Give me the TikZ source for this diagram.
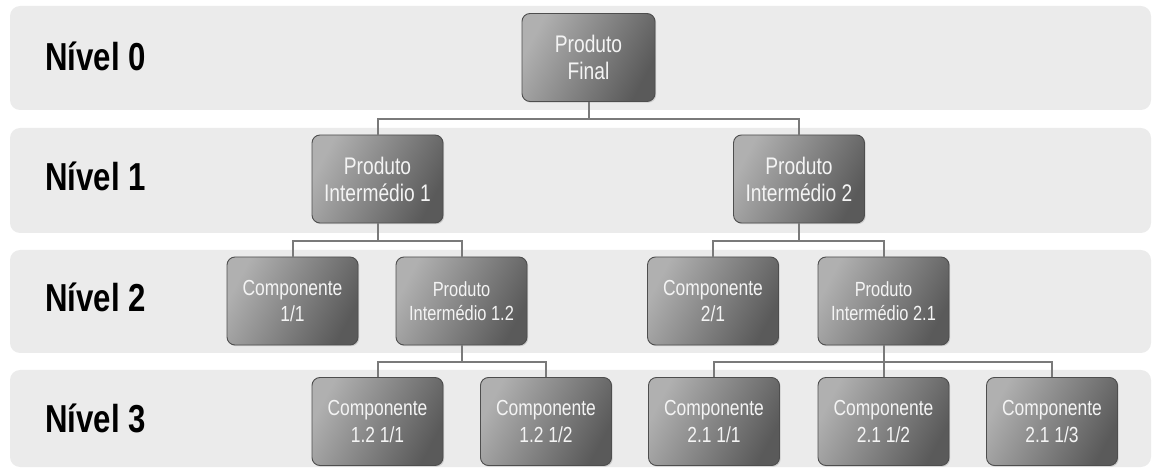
\documentclass[tikz,border=0pt]{standalone}
\usepackage{fontspec}
\setmainfont{Liberation Sans}[FakeStretch=0.8]
\usetikzlibrary{shadows}

\definecolor{bandgray}{HTML}{EBEBEB}
\definecolor{boxlight}{HTML}{B0B0B0}
\definecolor{boxdark}{HTML}{5A5A5A}
\definecolor{boxedge}{HTML}{4E4E4E}
\definecolor{linkgray}{HTML}{7A7A7A}
\definecolor{boxtext}{HTML}{F4F4F4}

\tikzset{
  band/.style={fill=bandgray, rounded corners=10pt},
  levellabel/.style={anchor=base west, inner sep=0pt,
    font=\fontsize{39}{41}\selectfont\bfseries},
  itembox/.style={draw=boxedge, line width=0.9pt, rounded corners=8pt,
    top color=boxlight, bottom color=boxdark, shading angle=62,
    minimum width=131pt, minimum height=88pt, align=center,
    text=boxtext, inner sep=2pt,
    drop shadow={opacity=0.3, shadow xshift=1.2pt, shadow yshift=-1.2pt}},
  bigtext/.style={font=\fontsize{24}{27}\selectfont},
  comptext/.style={font=\fontsize{21.8}{26.5}\selectfont},
  smalltext/.style={font=\fontsize{20.5}{24}\selectfont},
  link/.style={draw=linkgray, line width=2pt},
}

\begin{document}
\begin{tikzpicture}[x=1pt, y=-1pt]
  \useasboundingbox (0,0) rectangle (1152,470);

  % level bands
  \fill[band] (10,6)   rectangle (1151,110);
  \fill[band] (10,128) rectangle (1151,233);
  \fill[band] (10,250) rectangle (1151,353);
  \fill[band] (10,370) rectangle (1151,467);

  % level labels
  \node[levellabel] (lv0) at (45,71)  {Nível 0};
  \node[levellabel] (lv1) at (45,191) {Nível 1};
  \node[levellabel] (lv2) at (45,312) {Nível 2};
  \node[levellabel] (lv3) at (45,432) {Nível 3};

  % level 0
  \node[itembox, bigtext, minimum width=133pt] (pf) at (588.5,57.5) {Produto\\Final};

  % level 1
  \node[itembox, bigtext] (pi1) at (377.5,179) {Produto\\Intermédio 1};
  \node[itembox, bigtext] (pi2) at (799,179)   {Produto\\Intermédio 2};

  % level 2
  \node[itembox, comptext]  (c11)  at (292.5,301) {Componente\\1/1};
  \node[itembox, smalltext] (pi12) at (461.5,301) {Produto\\Intermédio 1.2};
  \node[itembox, comptext]  (c21)  at (713,301)   {Componente\\2/1};
  \node[itembox, smalltext] (pi21) at (883.5,301) {Produto\\Intermédio 2.1};

  % level 3
  \node[itembox, comptext] (c1211) at (377.5,421.5) {Componente\\1.2 1/1};
  \node[itembox, comptext] (c1212) at (546,421.5)   {Componente\\1.2 1/2};
  \node[itembox, comptext] (c2111) at (714,421.5)   {Componente\\2.1 1/1};
  \node[itembox, comptext] (c2112) at (883.5,421.5) {Componente\\2.1 1/2};
  \node[itembox, comptext] (c2113) at (1052,421.5)  {Componente\\2.1 1/3};

  % connectors: parent down to a bus, then across and down to each child
  \draw[link] (pf.south) -- ++(0,17.5) -| (pi1.north);
  \draw[link] (pf.south) -- ++(0,17.5) -| (pi2.north);

  \draw[link] (pi1.south) -- ++(0,18) -| (c11.north);
  \draw[link] (pi1.south) -- ++(0,18) -| (pi12.north);
  \draw[link] (pi2.south) -- ++(0,18) -| (c21.north);
  \draw[link] (pi2.south) -- ++(0,18) -| (pi21.north);

  \draw[link] (pi12.south) -- ++(0,17) -| (c1211.north);
  \draw[link] (pi12.south) -- ++(0,17) -| (c1212.north);
  \draw[link] (pi21.south) -- ++(0,17) -| (c2111.north);
  \draw[link] (pi21.south) -- ++(0,17) -| (c2112.north);
  \draw[link] (pi21.south) -- ++(0,17) -| (c2113.north);
\end{tikzpicture}
\end{document}
